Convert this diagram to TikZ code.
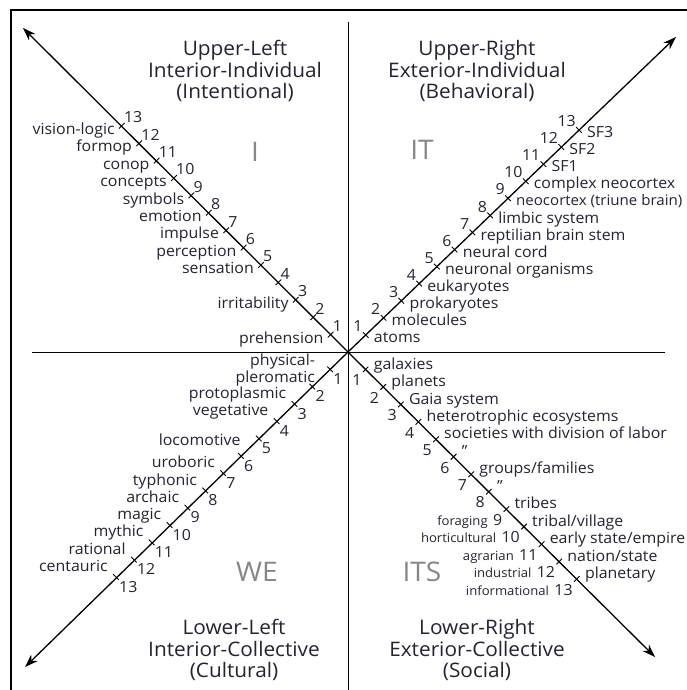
\documentclass[tikz,border=0pt]{standalone}
\usepackage{fontspec}
\setmainfont{Open Sans}[FakeStretch=1.04]
\usetikzlibrary{arrows.meta,calc}
\definecolor{ink}{RGB}{35,35,50}
\definecolor{quadgray}{RGB}{135,135,135}

\begin{document}
\begin{tikzpicture}[x=1pt,y=-1pt,
 font=\fontsize{15.3}{17}\selectfont,text=ink,
 axis/.style={line width=1pt},
 diag/.style={line width=1.3pt,-{Stealth[length=13pt,width=9pt,inset=4pt]}},
 tickmark/.style={line width=0.9pt},
 lbl/.style={inner sep=0pt},
 num/.style={inner sep=0pt},
 small/.style={inner sep=0pt,font=\fontsize{12.6}{14}\selectfont},
 title/.style={align=center,font=\fontsize{20}{21.5}\selectfont},
 quad/.style={text=quadgray,font=\fontsize{27}{30}\selectfont}]
\useasboundingbox (0,0) rectangle (687,690);
\draw[line width=2.5pt] (11,695) -- (11,10) -- (695,10);
\coordinate (c) at (348,352);
\coordinate (top) at (348,22);
\coordinate (bot) at (348,695);
\coordinate (left) at (32,352);
\coordinate (right) at (665,352);
\draw[axis] (top) -- (bot);
\draw[axis] (left) -- (right);
\coordinate (ultip) at (23,28);
\coordinate (urtip) at (676,37);
\coordinate (lltip) at (25,667);
\coordinate (lrtip) at (655,657);
\draw[diag] (c) -- (ultip);
\draw[diag] (c) -- (urtip);
\draw[diag] (c) -- (lltip);
\draw[diag] (c) -- (lrtip);
\foreach \k in {1,...,13}{
 \coordinate (ul\k) at ($(c)+(-17.4*\k,-17.4*\k)$);
 \coordinate (ur\k) at ($(c)+(17.77*\k,-17.08*\k)$);
 \coordinate (ll\k) at ($(c)+(-17.85*\k,17.3*\k)$);
 \coordinate (lr\k) at ($(c)+(17.6*\k,17.46*\k)$);
 \draw[tickmark] ($(ul\k)+(-2.8,2.8)$) -- ($(ul\k)+(2.8,-2.8)$);
 \draw[tickmark] ($(ur\k)+(-2.8,-2.8)$) -- ($(ur\k)+(2.8,2.8)$);
 \draw[tickmark] ($(ll\k)+(-2.8,-2.8)$) -- ($(ll\k)+(2.8,2.8)$);
 \draw[tickmark] ($(lr\k)+(-2.8,2.8)$) -- ($(lr\k)+(2.8,-2.8)$);
 \node[num,anchor=south west] (uln\k) at ($(ul\k)+(2,-3)$) {\k};
 \node[num,anchor=south east] (urn\k) at ($(ur\k)+(-3,-3)$) {\k};
 \node[num,anchor=north west] (lln\k) at ($(ll\k)+(3,4)$) {\k};
 \node[num,anchor=north east] (lrn\k) at ($(lr\k)+(-4,5)$) {\k};
}
\foreach \k/\t in {1/prehension,3/irritability,5/sensation,6/perception,
 7/impulse,8/emotion,9/symbols,10/concepts,11/conop,12/formop,13/vision-logic}
 \node[lbl,anchor=mid east] (ull\k) at ($(ul\k)+(-7,6)$) {\t};
\foreach \k/\t in {1/atoms,2/molecules,3/prokaryotes,4/eukaryotes,
 5/neuronal organisms,6/neural cord,7/reptilian brain stem,8/limbic system,
 10/complex neocortex,11/SF1,12/SF2,13/SF3}
 \node[lbl,anchor=mid west] (url\k) at ($(ur\k)+(8,5)$) {\t};
\node[lbl,anchor=mid west,font=\fontsize{14.5}{17}\selectfont] (url9) at ($(ur9)+(8,5)$) {neocortex (triune brain)};
\node[lbl,anchor=east,align=right] (lll1) at ($(ll1)+(-15,1)$) {physical-\\pleromatic};
\node[lbl,anchor=mid east] (lll5) at ($(ll5)+(-18,4)$) {locomotive};
\foreach \k/\t in {3/protoplasmic,4/vegetative,7/uroboric,8/typhonic,
 9/archaic,10/magic,11/mythic,12/rational,13/centauric}
 \node[lbl,anchor=mid east] (lll\k) at ($(ll\k)+(-8,-8)$) {\t};
\foreach \k/\t in {1/galaxies,2/planets,3/Gaia system,4/heterotrophic ecosystems,
 5/societies with division of labor,6/",7/{groups/families},8/",9/tribes,
 10/{tribal/village},11/{early state/empire},12/{nation/state},13/planetary}
 \node[lbl,anchor=mid west] (lrl\k) at ($(lr\k)+(8,-3)$) {\t};
\foreach \k/\t in {9/foraging,10/horticultural,11/agrarian,12/industrial,13/informational}
 \node[small,anchor=base east] (lrs\k) at ($(lrn\k.base west)+(-5,0)$) {\t};
\node[title] (ultitle) at (235,71) {Upper-Left\\Interior-Individual\\(Intentional)};
\node[title] (urtitle) at (477,71) {Upper-Right\\Exterior-Individual\\(Behavioral)};
\node[title] (lltitle) at (234,650) {Lower-Left\\Interior-Collective\\(Cultural)};
\node[title] (lrtitle) at (477,650) {Lower-Right\\Exterior-Collective\\(Social)};
\node[quad] (qi) at (255,152) {I};
\node[quad] (qit) at (422,150) {IT};
\node[quad] (qwe) at (257,572) {WE};
\node[quad] (qits) at (422,572) {ITS};
\end{tikzpicture}
\end{document}
